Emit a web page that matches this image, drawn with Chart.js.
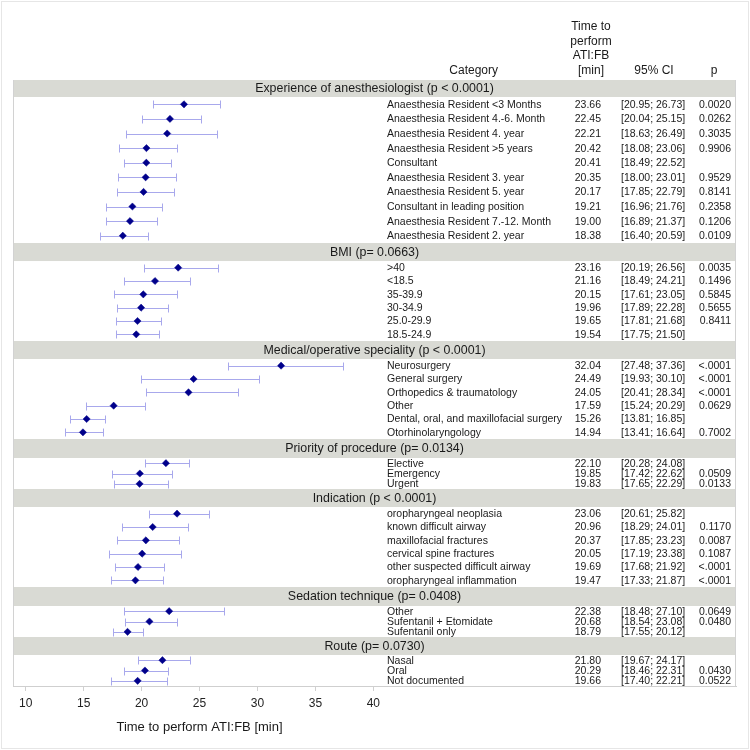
<!DOCTYPE html>
<html>
<head>
<meta charset="utf-8">
<script src="https://cdn.jsdelivr.net/npm/chart.js@4/dist/chart.umd.min.js"></script>
<style>
html,body{margin:0;padding:0;background:#fff;}
#wrap{width:750px;height:750px;position:relative;}
</style>
</head>
<body>
<div id="wrap"><canvas id="c" width="750" height="750"></canvas></div>
<script>
// ---------------- DATA ----------------
const groupTitles = [
  'Experience of anesthesiologist (p < 0.0001)',
  'BMI (p= 0.0663)',
  'Medical/operative speciality (p < 0.0001)',
  'Priority of procedure (p= 0.0134)',
  'Indication (p < 0.0001)',
  'Sedation technique (p= 0.0408)',
  'Route (p= 0.0730)'
];
const groupSizes = [10, 6, 6, 3, 6, 3, 3];
const categories = [
  'Anaesthesia Resident <3 Months','Anaesthesia Resident 4.-6. Month','Anaesthesia Resident 4. year',
  'Anaesthesia Resident >5 years','Consultant','Anaesthesia Resident 3. year','Anaesthesia Resident 5. year',
  'Consultant in leading position','Anaesthesia Resident 7.-12. Month','Anaesthesia Resident 2. year',
  '>40','<18.5','35-39.9','30-34.9','25.0-29.9','18.5-24.9',
  'Neurosurgery','General surgery','Orthopedics & traumatology','Other','Dental, oral, and maxillofacial surgery','Otorhinolaryngology',
  'Elective','Emergency','Urgent',
  'oropharyngeal neoplasia','known difficult airway','maxillofacial fractures','cervical spine fractures','other suspected difficult airway','oropharyngeal inflammation',
  'Other','Sufentanil + Etomidate','Sufentanil only',
  'Nasal','Oral','Not documented'
];
const estimates = [23.66,22.45,22.21,20.42,20.41,20.35,20.17,19.21,19.00,18.38,
  23.16,21.16,20.15,19.96,19.65,19.54,
  32.04,24.49,24.05,17.59,15.26,14.94,
  22.10,19.85,19.83,
  23.06,20.96,20.37,20.05,19.69,19.47,
  22.38,20.68,18.79,
  21.80,20.29,19.66];
const ciLower = [20.95,20.04,18.63,18.08,18.49,18.00,17.85,16.96,16.89,16.40,
  20.19,18.49,17.61,17.89,17.81,17.75,
  27.48,19.93,20.41,15.24,13.81,13.41,
  20.28,17.42,17.65,
  20.61,18.29,17.85,17.19,17.68,17.33,
  18.48,18.54,17.55,
  19.67,18.46,17.40];
const ciUpper = [26.73,25.15,26.49,23.06,22.52,23.01,22.79,21.76,21.37,20.59,
  26.56,24.21,23.05,22.28,21.68,21.50,
  37.36,30.10,28.34,20.29,16.85,16.64,
  24.08,22.62,22.29,
  25.82,24.01,23.23,23.38,21.92,21.87,
  27.10,23.08,20.12,
  24.17,22.31,22.21];
const pValues = ['0.0020','0.0262','0.3035','0.9906','','0.9529','0.8141','0.2358','0.1206','0.0109',
  '0.0035','0.1496','0.5845','0.5655','0.8411','',
  '<.0001','<.0001','<.0001','0.0629','','0.7002',
  '','0.0509','0.0133',
  '','0.1170','0.0087','0.1087','<.0001','<.0001',
  '0.0649','0.0480','',
  '','0.0430','0.0522'];
const tickValues = [10, 15, 20, 25, 30, 35, 40];
const axisTitle = 'Time to perform ATI:FB [min]';
const headerLines = ['Time to', 'perform', 'ATI:FB', '[min]'];

// ---------------- LAYOUT (style) ----------------
const rowHeights = [14.6, 13.33, 13.33, 10.33, 13.33, 10.33, 10.33];
const bandHeights = [17, 18, 18, 19, 18, 19, 18];
const FONT = "'Liberation Sans', Arial, Helvetica, sans-serif";

const yPos = [];
const bands = [];
let cursor = 0;
groupSizes.forEach((n, g) => {
  bands.push({y0: cursor, y1: cursor + bandHeights[g], title: groupTitles[g]});
  cursor += bandHeights[g];
  for (let j = 0; j < n; j++) { yPos.push(cursor + (j + 0.5) * rowHeights[g]); }
  cursor += n * rowHeights[g];
});
const totalH = cursor;

const forestPlugin = {
  id: 'forest',
  beforeDatasetsDraw(chart) {
    const {ctx, chartArea: ca, scales: {x, y}} = chart;
    ctx.save();
    ctx.fillStyle = '#d9dad4';
    bands.forEach(b => {
      const t = y.getPixelForValue(b.y0), bt = y.getPixelForValue(b.y1);
      ctx.fillRect(ca.left, t, ca.right - ca.left, bt - t);
    });
    ctx.strokeStyle = '#d2d2d2';
    ctx.lineWidth = 1;
    ctx.beginPath();
    ctx.moveTo(ca.left + 0.5, ca.top); ctx.lineTo(ca.left + 0.5, ca.bottom);
    ctx.moveTo(ca.right - 0.5, ca.top); ctx.lineTo(ca.right - 0.5, ca.bottom);
    ctx.stroke();
    ctx.strokeStyle = '#a8a8ec';
    ctx.lineWidth = 1;
    estimates.forEach((e, i) => {
      const py = Math.round(y.getPixelForValue(yPos[i])) + 0.5;
      const xl = Math.round(x.getPixelForValue(ciLower[i])) + 0.5;
      const xh = Math.round(x.getPixelForValue(ciUpper[i])) + 0.5;
      ctx.beginPath();
      ctx.moveTo(xl, py); ctx.lineTo(xh, py);
      ctx.moveTo(xl, py - 4); ctx.lineTo(xl, py + 4);
      ctx.moveTo(xh, py - 4); ctx.lineTo(xh, py + 4);
      ctx.stroke();
    });
    ctx.restore();
  },
  afterDraw(chart) {
    const {ctx, chartArea: ca, scales: {x, y}} = chart;
    ctx.save();
    ctx.fillStyle = '#1a1a1a';
    ctx.textBaseline = 'middle';
    ctx.font = '12.4px ' + FONT;
    ctx.textAlign = 'center';
    bands.forEach(b => {
      const c = y.getPixelForValue((b.y0 + b.y1) / 2);
      ctx.fillText(b.title, (ca.left + ca.right) / 2, c + 0.5);
    });
    ctx.font = '10.5px ' + FONT;
    categories.forEach((cat, i) => {
      const py = y.getPixelForValue(yPos[i]) + 0.5;
      ctx.textAlign = 'left';
      ctx.fillText(cat, 387, py);
      ctx.textAlign = 'right';
      ctx.fillText(estimates[i].toFixed(2), 601, py);
      ctx.textAlign = 'left';
      ctx.fillText('[' + ciLower[i].toFixed(2) + '; ' + ciUpper[i].toFixed(2) + ']', 621, py);
      ctx.textAlign = 'right';
      ctx.fillText(pValues[i], 731, py);
    });
    ctx.font = '12px ' + FONT;
    ctx.textAlign = 'center';
    headerLines.forEach((t, k) => ctx.fillText(t, 591, 27 + k * 14.5));
    const hy = 27 + 3 * 14.5;
    ctx.textAlign = 'right';
    ctx.fillText('Category', 498, hy);
    ctx.textAlign = 'center';
    ctx.fillText('95% CI', 654, hy);
    ctx.fillText('p', 714, hy);
    ctx.font = '13px ' + FONT;
    ctx.fillText(axisTitle, (x.getPixelForValue(tickValues[0]) + x.getPixelForValue(tickValues[tickValues.length - 1])) / 2, 727);
    ctx.strokeStyle = '#e6e6e6';
    ctx.lineWidth = 1;
    ctx.strokeRect(1.5, 1.5, 747, 747);
    ctx.restore();
  }
};

new Chart(document.getElementById('c'), {
  type: 'scatter',
  data: {
    datasets: [{
      data: estimates.map((e, i) => ({x: e, y: yPos[i]})),
      pointStyle: 'rectRot',
      pointRadius: 3.6,
      pointHoverRadius: 3.6,
      backgroundColor: '#00008b',
      borderColor: '#00008b',
      borderWidth: 0.5
    }]
  },
  options: {
    responsive: false,
    animation: false,
    events: [],
    layout: {padding: {left: 13, right: 14, top: 80, bottom: 0}},
    plugins: {legend: {display: false}, tooltip: {enabled: false}},
    scales: {
      x: {
        type: 'linear',
        min: 8.904,
        max: 71.30,
        afterBuildTicks: s => { s.ticks = tickValues.map(v => ({value: v})); },
        afterFit: s => { s.height = 64; },
        grid: {display: true, drawOnChartArea: false, drawTicks: true, tickLength: 5, color: '#d0d0d0'},
        border: {display: true, color: '#cfcfcf'},
        ticks: {font: {family: FONT, size: 12}, color: '#222', padding: 5, maxRotation: 0, autoSkip: false}
      },
      y: {
        type: 'linear',
        min: 0,
        max: totalH,
        reverse: true,
        display: false
      }
    }
  },
  plugins: [forestPlugin]
});
</script>
</body>
</html>
